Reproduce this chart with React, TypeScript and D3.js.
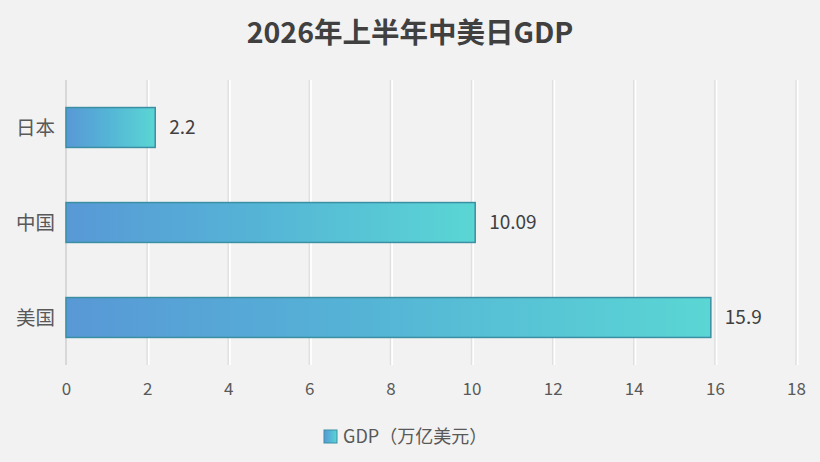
// 横向柱形图：2026年上半年中美日GDP
import React, { useRef, useEffect } from 'react';
import * as d3 from 'd3';

const countries = ['日本', '中国', '美国'];
const gdpValues = [2.2, 10.09, 15.9];
const xTicks = [0, 2, 4, 6, 8, 10, 12, 14, 16, 18];
const title = '2026年上半年中美日GDP';
const seriesName = 'GDP（万亿美元）';

const width = 820;
const height = 462;
const marginTop = 80;
const marginBottom = 97;
const marginLeft = 66;
const font = '"Noto Sans CJK SC", "Noto Sans", sans-serif';

const App: React.FC = () => {
  const svgRef = useRef<SVGSVGElement>(null);

  useEffect(() => {
    document.body.style.margin = '0';
    document.body.style.background = '#f2f2f2';
    if (!svgRef.current) return;
    const svg = d3.select(svgRef.current);
    svg.selectAll('*').remove();

    const data = countries.map((name, i) => ({ name, value: gdpValues[i] }));

    const xScale = d3.scaleLinear()
      .domain([0, 18])
      .range([marginLeft, marginLeft + 730]);

    const yScale = d3.scaleBand()
      .domain(countries)
      .range([marginTop, height - marginBottom])
      .paddingInner(0.58)
      .paddingOuter(0.29);

    // 渐变
    const defs = svg.append('defs');
    const grad = defs.append('linearGradient')
      .attr('id', 'barGrad')
      .attr('x1', '0').attr('x2', '1').attr('y1', '0').attr('y2', '0');
    grad.append('stop').attr('offset', '0%').attr('stop-color', '#5898d6');
    grad.append('stop').attr('offset', '45%').attr('stop-color', '#55b3d6');
    grad.append('stop').attr('offset', '100%').attr('stop-color', '#5ad6d4');

    svg.append('rect')
      .attr('width', width).attr('height', height)
      .attr('fill', '#f2f2f2');

    // 标题
    svg.append('text')
      .attr('x', width / 2)
      .attr('y', 43)
      .attr('text-anchor', 'middle')
      .attr('font-family', font)
      .attr('font-weight', 'bold')
      .attr('font-size', 28.5)
      .attr('fill', '#404040')
      .text(title);

    // 网格线
    const grid = svg.append('g');
    grid.selectAll('.shadow')
      .data(xTicks.slice(1))
      .join('line')
      .attr('x1', d => xScale(d) + 1.5).attr('x2', d => xScale(d) + 1.5)
      .attr('y1', marginTop).attr('y2', height - marginBottom)
      .attr('stroke', '#ffffff')
      .attr('stroke-width', 2);
    grid.selectAll('.gl')
      .data(xTicks.slice(1))
      .join('line')
      .attr('x1', d => xScale(d)).attr('x2', d => xScale(d))
      .attr('y1', marginTop).attr('y2', height - marginBottom)
      .attr('stroke', '#e0e0e0')
      .attr('stroke-width', 1.5);

    // 纵轴线
    svg.append('line')
      .attr('x1', xScale(0)).attr('x2', xScale(0))
      .attr('y1', marginTop).attr('y2', height - marginBottom)
      .attr('stroke', '#d8d8d8')
      .attr('stroke-width', 2);

    // 柱形
    svg.selectAll('.bar')
      .data(data)
      .join('rect')
      .attr('class', 'bar')
      .attr('x', xScale(0))
      .attr('y', d => yScale(d.name) || 0)
      .attr('width', d => xScale(d.value) - xScale(0))
      .attr('height', yScale.bandwidth())
      .attr('fill', 'url(#barGrad)')
      .attr('stroke', '#3a8fa3')
      .attr('stroke-width', 1.5);

    // 数值标签
    svg.selectAll('.val')
      .data(data)
      .join('text')
      .attr('x', d => xScale(d.value) + 14)
      .attr('y', d => (yScale(d.name) || 0) + yScale.bandwidth() / 2)
      .attr('dy', '0.36em')
      .attr('font-family', font)
      .attr('font-size', 19)
      .attr('fill', '#404040')
      .text(d => String(d.value));

    // 类别标签
    svg.selectAll('.cat')
      .data(data)
      .join('text')
      .attr('x', marginLeft - 11)
      .attr('y', d => (yScale(d.name) || 0) + yScale.bandwidth() / 2)
      .attr('dy', '0.36em')
      .attr('text-anchor', 'end')
      .attr('font-family', font)
      .attr('font-size', 19.5)
      .attr('fill', '#595959')
      .text(d => d.name);

    // 横轴刻度
    const xAxis = d3.axisBottom(xScale).tickValues(xTicks).tickSize(0).tickPadding(18);
    const axisG = svg.append('g')
      .attr('transform', `translate(0,${height - marginBottom})`)
      .call(xAxis);
    axisG.select('.domain').remove();
    axisG.selectAll('text')
      .attr('font-family', font)
      .attr('font-size', 17)
      .attr('fill', '#595959');

    // 图例
    const legend = svg.append('g').attr('transform', 'translate(324,430)');
    legend.append('rect')
      .attr('width', 13).attr('height', 13)
      .attr('fill', 'url(#barGrad)')
      .attr('stroke', '#3a8fa3')
      .attr('stroke-width', 1);
    legend.append('text')
      .attr('x', 19)
      .attr('y', 6.5)
      .attr('dy', '0.36em')
      .attr('font-family', font)
      .attr('font-size', 18)
      .attr('fill', '#595959')
      .text(seriesName);
  }, []);

  return <svg ref={svgRef} width={width} height={height} style={{ display: 'block' }} />;
};

export default App;
